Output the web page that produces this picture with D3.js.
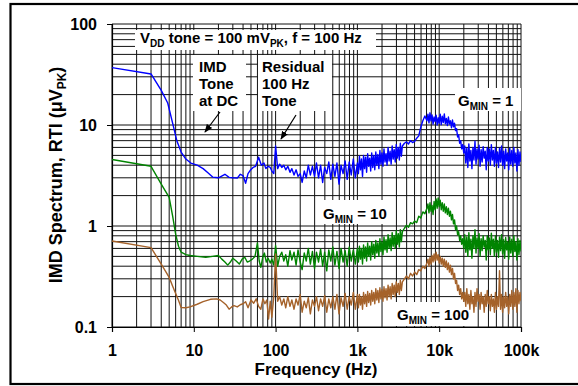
<!DOCTYPE html>
<html><head><meta charset="utf-8">
<script src="https://cdn.jsdelivr.net/npm/d3@7"></script>
<style>
body{margin:0;background:#fff}
svg{display:block}
text{font-family:"Liberation Sans",Arial,Helvetica,sans-serif;font-weight:bold;fill:#000}
</style>
</head><body>
<svg id="c" width="578" height="386"></svg>
<script>
// ---------- data ----------
const xTickValues = [1, 10, 100, 1000, 10000, 100000];
const xTickLabels = ["1", "10", "100", "1k", "10k", "100k"];
const yTickValues = [0.1, 1, 10, 100];
const yTickLabels = ["0.1", "1", "10", "100"];

// low-frequency (smooth) part of each trace
const lowFreqBlue = [1,3,4,4.8,5.5,6.2,7,8,9.2,11,13,15,17,20,24,27,30,34,37,40,43,46,49,53,57,62,67,72,76,81,86,90,95];
const lowBlue = [37,32,22,16.5,10.5,7.0,5.4,4.6,4.2,4.0,3.7,3.35,3.05,3.0,3.25,3.03,3.0,2.98,3.25,3.15,2.65,3.3,3.56,3.8,3.9,4.8,4.0,4.2,3.7,3.9,3.8,3.5,3.3];

const lowFreqGreen = [1,3,4,5,5.5,6,6.5,7,8,9,11,14,17,20,22,24,26,28,30,33,36,39,42,45,48,52,56,60,63,66,70,73,77,81,86,90,95];
const lowGreen = [4.55,3.9,2.6,1.92,1.27,0.83,0.63,0.55,0.52,0.51,0.5,0.49,0.5,0.51,0.47,0.44,0.41,0.44,0.48,0.45,0.42,0.47,0.49,0.44,0.45,0.47,0.5,0.68,0.45,0.39,0.5,0.54,0.44,0.48,0.43,0.47,0.41];

const lowFreqBrown = [1,3,4,5,5.5,6,6.5,7,8,9,11,13,16,19,21,23,25,27,29,31,34,37,40,43,46,50,54,58,62,66,70,74,78,82,86,90,95];
const lowBrown = [0.71,0.61,0.42,0.31,0.255,0.215,0.184,0.156,0.155,0.158,0.168,0.178,0.188,0.19,0.185,0.175,0.165,0.15,0.158,0.163,0.158,0.166,0.17,0.178,0.155,0.185,0.172,0.19,0.16,0.15,0.19,0.17,0.185,0.12,0.18,0.125,0.2];

// noisy spectrum part (100 Hz .. 100 kHz), shared frequency bins
const noiseFreq = [
100,106,112,119,126,133,141,150,158,168,178,188,200,211,224,237,251,266,282,299,316,335,355,376,398,422,447,473,501,531,562,596,631,668,708,750,794,841,891,944,1000,
1029,1059,1090,1122,1155,1189,1223,1259,1296,1334,1372,1413,1454,1496,1540,1585,1631,1679,1728,1778,1830,1884,1939,1995,2054,2113,2175,2239,2304,2371,2441,2512,2585,2661,2738,2818,2901,2985,3073,3162,3255,3350,3447,3548,
3758,3981,4217,4467,4732,5012,5309,5623,5957,6310,6683,7079,
7286,7499,7718,7943,8175,8414,8660,8913,9173,9441,9716,10000,10292,10593,10902,11220,11548,11885,12232,12589,12957,13335,13725,14125,14538,14962,15399,15849,16312,16788,17278,17783,18302,18836,19387,19953,
20535,21135,21752,22387,23041,23714,24406,25119,25852,26607,27384,28184,29007,29854,30726,31623,32546,33497,34475,35481,36517,37584,38681,39811,40973,42170,43401,44668,45973,47315,48697,50119,51582,53088,54638,56234,57876,59566,61306,63096,64938,66834,68786,70795,72862,74989,77179,79433,81752,84140,86596,89125,91728,94406,97163,100000];

const noiseBlue = [
6.2,3.7,4.1,3.8,4.0,3.6,3.9,3.4,3.7,3.2,3.6,3.1,3.3,2.7,3.5,3.0,4.0,3.2,3.9,3.1,4.2,3.0,4.0,2.7,3.8,3.3,4.3,2.9,4.1,3.1,4.2,2.6,4.0,3.3,4.4,2.9,4.3,3.2,4.6,3.0,4.2,
3.3,4.9,3.6,4.6,3.1,5.0,3.7,4.8,3.4,5.2,3.9,4.7,3.5,5.3,3.8,5.0,3.6,5.4,4.0,5.1,3.7,5.6,4.1,5.3,3.9,5.8,4.3,5.2,4.0,6.0,4.4,5.5,4.1,6.2,4.6,5.7,4.3,6.4,4.7,6.0,4.5,6.6,4.9,6.2,
6.6,6.8,6.5,7.0,6.7,6.9,7.4,7.8,9.5,11.0,12.3,11.0,
12.8,10.5,13.2,11.0,12.6,10.2,12.0,10.8,12.5,10.0,11.8,10.4,12.8,10.1,12.2,10.6,12.9,10.3,11.6,9.9,12.0,10.2,11.0,9.4,11.2,9.6,10.4,8.8,9.2,7.6,8.0,6.6,7.0,5.8,6.4,5.3,
6.2,4.2,5.9,3.8,6.5,4.4,5.6,3.7,6.0,4.5,6.9,4.1,5.8,4.6,6.3,3.9,5.7,4.3,6.1,4.7,5.5,3.6,6.0,4.4,5.8,4.0,6.4,4.5,5.6,3.9,6.0,4.2,5.4,3.8,5.9,4.3,6.2,4.0,5.5,3.7,5.8,4.4,5.3,3.6,5.9,4.1,5.6,3.9,6.0,4.2,5.3,3.5,5.7,4.0,5.4,4.3];

const noiseGreen = [
0.64,0.40,0.50,0.55,0.45,0.52,0.40,0.57,0.46,0.55,0.41,0.58,0.44,0.37,0.54,0.45,0.60,0.42,0.56,0.38,0.55,0.44,0.59,0.40,0.55,0.36,0.58,0.45,0.62,0.41,0.56,0.38,0.60,0.44,0.57,0.40,0.62,0.45,0.58,0.42,0.60,
0.44,0.63,0.47,0.60,0.42,0.65,0.48,0.62,0.45,0.68,0.50,0.63,0.46,0.70,0.52,0.66,0.48,0.72,0.54,0.68,0.50,0.75,0.56,0.70,0.52,0.78,0.58,0.73,0.55,0.82,0.60,0.76,0.57,0.86,0.63,0.80,0.60,0.90,0.66,0.84,0.62,0.92,0.70,0.88,
0.95,1.02,0.97,1.08,1.05,1.12,1.08,1.25,1.2,1.38,1.32,1.5,
1.65,1.35,1.7,1.4,1.6,1.3,1.75,1.45,1.85,1.5,1.9,1.55,1.8,1.45,1.7,1.4,1.65,1.35,1.55,1.3,1.5,1.25,1.4,1.15,1.3,1.05,1.15,0.92,1.0,0.82,0.88,0.72,0.8,0.66,0.75,0.6,
0.82,0.55,0.78,0.5,0.86,0.58,0.74,0.48,0.8,0.6,0.92,0.54,0.76,0.6,0.84,0.5,0.75,0.57,0.8,0.62,0.72,0.46,0.8,0.58,0.76,0.52,0.85,0.6,0.74,0.5,0.8,0.55,0.72,0.49,0.78,0.57,0.82,0.53,0.73,0.48,0.77,0.58,0.7,0.47,0.78,0.54,0.74,0.5,0.8,0.56,0.7,0.46,0.75,0.52,0.72,0.56];

const noiseBrown = [
0.53,0.18,0.2,0.165,0.19,0.155,0.2,0.16,0.185,0.15,0.19,0.165,0.21,0.14,0.18,0.155,0.195,0.135,0.185,0.16,0.2,0.145,0.19,0.16,0.205,0.14,0.19,0.155,0.2,0.15,0.21,0.135,0.195,0.16,0.215,0.15,0.2,0.165,0.22,0.15,0.21,
0.155,0.21,0.165,0.2,0.15,0.22,0.17,0.21,0.16,0.225,0.175,0.215,0.165,0.23,0.18,0.22,0.17,0.24,0.185,0.23,0.175,0.245,0.19,0.235,0.18,0.25,0.195,0.24,0.185,0.26,0.2,0.25,0.19,0.27,0.21,0.26,0.2,0.28,0.22,0.27,0.21,0.29,0.23,0.28,
0.3,0.32,0.3,0.34,0.32,0.35,0.33,0.37,0.36,0.4,0.38,0.43,
0.47,0.4,0.49,0.42,0.51,0.44,0.53,0.45,0.55,0.46,0.52,0.43,0.5,0.42,0.48,0.4,0.47,0.39,0.45,0.37,0.43,0.35,0.41,0.33,0.38,0.3,0.34,0.27,0.29,0.23,0.26,0.21,0.24,0.19,0.22,0.18,
0.22,0.16,0.24,0.17,0.21,0.15,0.23,0.17,0.2,0.14,0.22,0.16,0.24,0.18,0.21,0.15,0.22,0.17,0.2,0.14,0.21,0.16,0.23,0.17,0.2,0.145,0.21,0.16,0.19,0.14,0.22,0.15,0.2,0.16,0.36,0.15,0.21,0.14,0.2,0.155,0.22,0.16,0.2,0.135,0.21,0.16,0.23,0.15,0.22,0.16,0.24,0.14,0.23,0.17,0.22,0.18];

const seriesNames = ["G = 1", "G = 10", "G = 100"];
const seriesColors = ["#0000ff", "#008400", "#a5622a"];

// ---------- drawing ----------
const svg = d3.select("#c");
const W = 578, H = 386;
const m = {left: 112, right: 521, top: 24, bottom: 327};

const x = d3.scaleLog().domain([1, 1e5]).range([m.left, m.right]);
const y = d3.scaleLog().domain([0.1, 100]).range([m.bottom, m.top]);

svg.append("rect").attr("width", W).attr("height", H).attr("fill", "#fff");
// outer frame
svg.append("rect").attr("x", 10.5).attr("y", 4).attr("width", 620).attr("height", 380)
  .attr("fill", "none").attr("stroke", "#000").attr("stroke-width", 2.2);

// grid
const grid = svg.append("g").attr("stroke", "#111").attr("stroke-width", 1);
grid.selectAll("line.v").data(x.ticks()).join("line")
  .attr("x1", d => x(d)).attr("x2", d => x(d))
  .attr("y1", y(0.1)).attr("y2", y(100));
grid.selectAll("line.h").data(y.ticks()).join("line")
  .attr("y1", d => y(d)).attr("y2", d => y(d))
  .attr("x1", x(1)).attr("x2", x(1e5));

// white boxes behind annotation text
const boxes = [
  [135, 30, 241, 20],
  [193, 55, 53, 56],
  [258, 55, 74, 56],
  [455, 88, 66, 23],
  [316, 200, 74, 24],
  [392, 302, 84, 24]
];
svg.append("g").selectAll("rect").data(boxes).join("rect")
  .attr("x", d => d[0]).attr("y", d => d[1]).attr("width", d => d[2]).attr("height", d => d[3])
  .attr("fill", "#fff");

// axes
const xAxis = d3.axisBottom(x).tickValues(xTickValues)
  .tickFormat((d, i) => xTickLabels[i]).tickSize(5).tickPadding(12.5);
const gx = svg.append("g").attr("transform", `translate(0,${m.bottom})`).call(xAxis);
const yAxis = d3.axisLeft(y).tickValues(yTickValues)
  .tickFormat((d, i) => yTickLabels[i]).tickSize(5).tickPadding(10);
const gy = svg.append("g").attr("transform", `translate(${m.left},0)`).call(yAxis);
[gx, gy].forEach(g => {
  g.select(".domain").attr("stroke", "#000").attr("stroke-width", 1.2);
  g.selectAll(".tick line").attr("stroke", "#000").attr("stroke-width", 1);
  g.selectAll(".tick text").attr("font-family", '"Liberation Sans",Arial,sans-serif')
    .attr("font-weight", "bold").attr("font-size", 16).attr("fill", "#000");
});
gy.selectAll(".tick text").attr("dy", "0.34em");

// curves
svg.append("clipPath").attr("id", "clip").append("rect")
  .attr("x", m.left).attr("y", m.top).attr("width", m.right - m.left).attr("height", m.bottom - m.top);
const line = d3.line().x(d => x(d[0])).y(d => y(d[1]));
const traces = [
  d3.zip(lowFreqBlue.concat(noiseFreq), lowBlue.concat(noiseBlue)),
  d3.zip(lowFreqGreen.concat(noiseFreq), lowGreen.concat(noiseGreen)),
  d3.zip(lowFreqBrown.concat(noiseFreq), lowBrown.concat(noiseBrown))
];
svg.append("g").attr("clip-path", "url(#clip)").selectAll("path").data(traces).join("path")
  .attr("d", line).attr("fill", "none")
  .attr("stroke", (d, i) => seriesColors[i]).attr("stroke-width", 1.4)
  .attr("stroke-linejoin", "round");

// axis titles
svg.append("text").attr("x", 316).attr("y", 375).attr("text-anchor", "middle")
  .attr("font-size", 17).text("Frequency (Hz)");
const yt = svg.append("text").attr("transform", "translate(62,175) rotate(-90)")
  .attr("text-anchor", "middle").attr("font-size", 18);
yt.append("tspan").text("IMD Spectrum, RTI (\u03BCV");
yt.append("tspan").attr("font-size", 12).attr("dy", 4).text("PK");
yt.append("tspan").attr("dy", -4).text(")");

// annotation helper with subscripts
function rich(xp, yp, parts, size) {
  const t = svg.append("text").attr("x", xp).attr("y", yp).attr("font-size", size);
  let shift = 0;
  parts.forEach(p => {
    const sub = p[1];
    const target = sub ? 4 : 0;
    const ts = t.append("tspan").text(p[0]).attr("dy", target - shift);
    if (sub) ts.attr("font-size", 10);
    shift = target;
  });
  return t;
}
rich(140, 43, [["V"], ["DD", 1], [" tone = 100 mV"], ["PK", 1], [", f = 100 Hz"]], 15);
["IMD", "Tone", "at DC"].forEach((s, i) =>
  svg.append("text").attr("x", 199).attr("y", 72 + 17 * i).attr("font-size", 15).text(s));
["Residual", "100 Hz", "Tone"].forEach((s, i) =>
  svg.append("text").attr("x", 262).attr("y", 72 + 17 * i).attr("font-size", 15).text(s));
rich(458, 105.5, [["G"], ["MIN", 1], [" = 1"]], 15);
rich(323, 218.5, [["G"], ["MIN", 1], [" = 10"]], 15);
rich(397, 319.5, [["G"], ["MIN", 1], [" = 100"]], 15);

// arrows
const defs = svg.append("defs");
defs.append("marker").attr("id", "ah").attr("viewBox", "0 0 10 10").attr("refX", 9).attr("refY", 5)
  .attr("markerWidth", 7).attr("markerHeight", 7).attr("orient", "auto")
  .append("path").attr("d", "M0,1 L10,5 L0,9 Z").attr("fill", "#000");
[[220, 112, 205, 132], [296, 115, 281, 139]].forEach(a =>
  svg.append("line").attr("x1", a[0]).attr("y1", a[1]).attr("x2", a[2]).attr("y2", a[3])
    .attr("stroke", "#000").attr("stroke-width", 1.2).attr("marker-end", "url(#ah)"));
</script>
</body></html>
